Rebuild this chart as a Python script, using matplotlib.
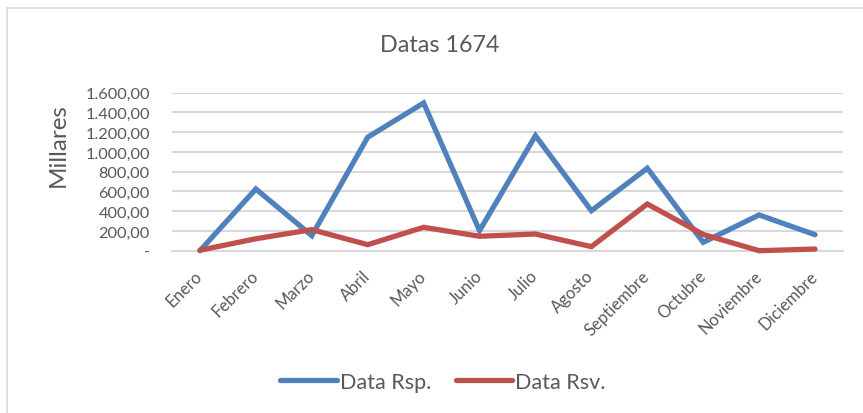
import matplotlib
matplotlib.use("Agg")
import matplotlib.pyplot as plt
from matplotlib.lines import Line2D
from matplotlib.ticker import FuncFormatter, MultipleLocator

months = ["Enero", "Febrero", "Marzo", "Abril", "Mayo", "Junio", "Julio",
          "Agosto", "Septiembre", "Octubre", "Noviembre", "Diciembre"]
data_rsp = [0, 625, 152, 1149, 1496, 203, 1165, 405, 835, 85, 362, 162]
data_rsv = [5, 121, 213, 61, 237, 146, 169, 41, 473, 165, 0, 17]

title = "Datas 1674"
ylabel = "Millares"
series_names = ["Data Rsp.", "Data Rsv."]

plt.rcParams['font.family'] = ['Lato', 'DejaVu Sans']
TXT = '#595959'
GRID = '#D9D9D9'
BLUE = '#4F81BD'
RED = '#C0504D'

W, H = 863, 414
fig = plt.figure(figsize=(W / 100, H / 100), dpi=100)
ax = fig.add_axes([172 / W, 1 - 251.7 / H, (843 - 172) / W, (251.7 - 93.7) / H])

x = list(range(len(months)))
ax.plot(x, data_rsp, color=BLUE, lw=3.8, solid_capstyle='round',
        solid_joinstyle='miter', clip_on=False, zorder=3, label=series_names[0])
ax.plot(x, data_rsv, color=RED, lw=3.8, solid_capstyle='round',
        solid_joinstyle='miter', clip_on=False, zorder=3, label=series_names[1])

ax.set_xlim(-0.5, len(months) - 0.5)
ax.set_ylim(0, 1600)
ax.yaxis.set_major_locator(MultipleLocator(200))


def fmt(v, pos):
    if abs(v) < 1e-9:
        return "-"
    s = f"{v:,.2f}"
    return s.replace(",", "X").replace(".", ",").replace("X", ".")


ax.yaxis.set_major_formatter(FuncFormatter(fmt))
ax.grid(axis='y', color=GRID, lw=1.5, zorder=0)
ax.set_axisbelow(True)
for s in ['top', 'right', 'left']:
    ax.spines[s].set_visible(False)
ax.spines['bottom'].set_color(GRID)
ax.spines['bottom'].set_linewidth(1.5)
ax.tick_params(axis='both', length=0, colors=TXT)
ax.tick_params(axis='y', pad=16, labelsize=11.8)
ax.set_xticks(x)
ax.set_xticklabels(months, rotation=45, ha='right', va='center',
                   rotation_mode='anchor', color=TXT, fontsize=12)
ax.tick_params(axis='x', pad=16)

fig.text(440 / W, 1 - 45 / H, title, ha='center', va='center', fontsize=16.8, color=TXT)
fig.text(58 / W, 1 - 145 / H, ylabel, ha='center', va='center', rotation=90,
         fontsize=17.4, color=TXT)

leg = fig.legend(loc='center', bbox_to_anchor=(443 / W, 1 - 383 / H), ncol=2,
                 frameon=False, fontsize=15.6, handlelength=2.6, handletextpad=0.14,
                 columnspacing=1.15, labelcolor=TXT)

# chart border (top and left visible)
fig.add_artist(Line2D([6.5 / W, 6.5 / W], [0, 1 - 8.5 / H], transform=fig.transFigure,
                      color=GRID, lw=1.2))
fig.add_artist(Line2D([6.5 / W, 1], [1 - 8.5 / H, 1 - 8.5 / H], transform=fig.transFigure,
                      color=GRID, lw=1.2))

fig.savefig("out.png", dpi=100, facecolor='white')
